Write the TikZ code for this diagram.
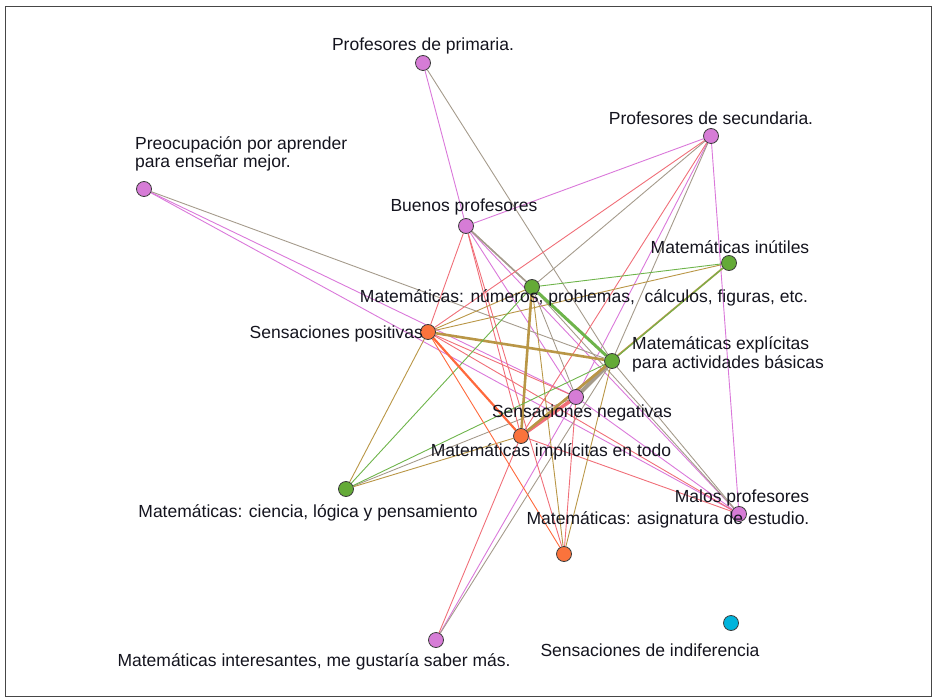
\documentclass[tikz,border=0pt]{standalone}
\usepackage{fontspec}
\setmainfont{Liberation Sans}
\pgfdeclarelayer{bg}
\pgfsetlayers{bg,main}
\definecolor{npur}{RGB}{214,124,214}
\definecolor{nora}{RGB}{250,115,60}
\definecolor{ngre}{RGB}{100,170,55}
\definecolor{ncya}{RGB}{0,180,220}
\definecolor{epur}{RGB}{218,120,218}
\definecolor{egry}{RGB}{165,155,140}
\definecolor{ered}{RGB}{240,110,120}
\definecolor{etan}{RGB}{185,150,70}
\definecolor{egre}{RGB}{110,180,75}
\definecolor{eora}{RGB}{255,105,60}
\definecolor{txt}{RGB}{20,20,30}
\tikzset{
  vtx/.style={circle,minimum size=15pt,inner sep=0pt,draw={rgb,255:red,60;green,60;blue,60},line width=0.8pt},
  vp/.style={vtx,fill=npur},
  vo/.style={vtx,fill=nora},
  vg/.style={vtx,fill=ngre},
  vc/.style={vtx,fill=ncya},
  lab/.style={inner sep=0pt,text=txt,font=\fontsize{17.5}{20}\selectfont},
  ep/.style={draw=epur,line width=0.9pt},
  eg/.style={draw=egry,line width=0.9pt},
  er/.style={draw=ered,line width=0.9pt},
  et/.style={draw=etan,line width=0.9pt},
  en/.style={draw=egre,line width=0.9pt},
  eo/.style={draw=eora,line width=0.9pt},
  frame/.style={draw={rgb,255:red,70;green,70;blue,70},line width=0.8pt}
}
\begin{document}
\begin{tikzpicture}[x=1pt,y=-1pt]
\useasboundingbox (0,0) rectangle (936,700);
\draw[frame] (5,6) rectangle (931,696);
% vertices
\node[vp] (PP) at (423,63) {};
\node[vp] (PS) at (711,136) {};
\node[vp] (PA) at (144,189) {};
\node[vp] (BP) at (466,226) {};
\node[vg] (MI) at (729,263) {};
\node[vg] (MN) at (532,287) {};
\node[vo] (SP) at (428,332) {};
\node[vg] (ME) at (612,361) {};
\node[vp] (SN) at (576,397) {};
\node[vo] (MT) at (521,436) {};
\node[vg] (MC) at (346,489) {};
\node[vp] (MP) at (739,514) {};
\node[vo] (MA) at (564,554) {};
\node[vp] (MM) at (436,640) {};
\node[vc] (SI) at (731,623) {};
% edges
\begin{pgfonlayer}{bg}
\draw[ep] (PP) -- (BP);
\draw[ep] (BP) -- (PS);
\draw[ep] (PS) -- (SN);
\draw[ep] (PS) -- (MP);
\draw[ep] (PA) -- (SN);
\draw[ep] (PA) -- (MP);
\draw[ep] (BP) -- (SN);
\draw[ep] (BP) -- (MP);
\draw[ep] (SN) -- (MP);
\draw[ep] (SN) -- (MM);
\draw[eg] (PP) -- (ME);
\draw[eg] (PS) -- (MN);
\draw[eg] (PS) -- (ME);
\draw[eg] (PA) -- (ME);
\draw[eg,line width=1.6pt] (BP) -- (MN);
\draw[eg,line width=1.2pt] (BP) -- (ME);
\draw[eg] (MC) -- (SN);
\draw[eg] (ME) -- (MM);
\draw[eg] (ME) -- (MP);
\draw[eg] (MN) -- (MP);
\draw[eg] (MN) -- (SN);
\draw[eg,line width=4pt] (SN) -- (ME);
\draw[er] (PS) -- (SP);
\draw[er] (PS) -- (MT);
\draw[er] (BP) -- (SP);
\draw[er] (BP) -- (MT);
\draw[er] (BP) -- (MA);
\draw[er] (SP) -- (SN);
\draw[er] (SP) -- (MP);
\draw[er] (MT) -- (MP);
\draw[er] (MT) -- (MM);
\draw[er] (SN) -- (MA);
\draw[er,line width=3.5pt] (MT) -- (SN);
\draw[et] (SP) -- (MN);
\draw[et] (SP) -- (MI);
\draw[et,line width=2.6pt] (SP) -- (ME);
\draw[et] (SP) -- (MC);
\draw[et,line width=2.6pt] (MN) -- (MT);
\draw[et] (MN) -- (MA);
\draw[et] (ME) -- (MA);
\draw[et] (MC) -- (MT);
\draw[et,line width=1.8pt] (MI) -- (MT);
\draw[et,line width=2.5pt] (MT) -- (ME);
\draw[en] (MN) -- (MI);
\draw[en,line width=3pt] (MN) -- (ME);
\draw[en] (MC) -- (MN);
\draw[en] (MC) -- (ME);
\draw[en] (MI) -- (ME);
\draw[eo,line width=2.2pt] (SP) -- (MT);
\draw[eo] (SP) -- (MA);
\end{pgfonlayer}
% labels
\node[lab,anchor=base] (lPP) at (423,51) {Profesores de primaria.};
\node[lab,anchor=base] (lPS) at (711,125) {Profesores de secundaria.};
\node[lab,anchor=base west,align=left] (lPA) at (135,168) {Preocupación por aprender\\[-1.5pt]para enseñar mejor.};
\node[lab,anchor=base] (lBP) at (464,212) {Buenos profesores};
\node[lab,anchor=base] (lMI) at (730,254) {Matemáticas inútiles};
\node[lab,anchor=base] (lMN) at (584,302) {Matemáticas: números, problemas, \ cálculos, figuras, etc.};
\node[lab,anchor=base east] (lSP) at (423,338) {Sensaciones positivas};
\node[lab,anchor=base west,align=left] (lME) at (632,368) {Matemáticas explícitas\\[-1.5pt]para actividades básicas};
\node[lab,anchor=base] (lSN) at (582,417) {Sensaciones negativas};
\node[lab,anchor=base] (lMT) at (551,456) {Matemáticas implícitas en todo};
\node[lab,anchor=base] (lMC) at (308,517) {Matemáticas: ciencia, lógica y pensamiento};
\node[lab,anchor=base] (lMP) at (742,502) {Malos profesores};
\node[lab,anchor=base] (lMA) at (668,524) {Matemáticas: asignatura de estudio.};
\node[lab,anchor=base] (lMM) at (314,666) {Matemáticas interesantes, me gustaría saber más.};
\node[lab,anchor=base] (lSI) at (650,656) {Sensaciones de indiferencia};
\end{tikzpicture}
\end{document}
